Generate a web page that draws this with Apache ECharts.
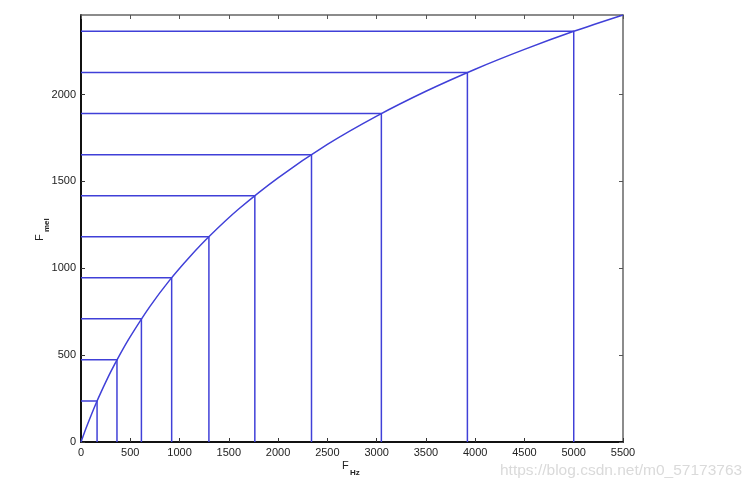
<!DOCTYPE html>
<html><head><meta charset="utf-8">
<script src="https://cdn.jsdelivr.net/npm/echarts@6/dist/echarts.min.js"></script>
<style>html,body{margin:0;padding:0;background:#fff}#c{width:756px;height:492px}</style>
</head><body><div id="c"></div>
<script>
// Mel curve samples: [Hz, mel]
var curveHz  = [0, 50, 100, 150, 200, 300, 400, 500, 700, 900, 1100, 1300, 1600, 2000, 2500, 3000, 3500, 4000, 4500, 5000, 5500];
var curveMel = [0, 78, 150, 219, 283, 402, 509, 607, 781, 932, 1064, 1183, 1341, 1521, 1713, 1876, 2019, 2146, 2260, 2364, 2458];
// Filter points (equally spaced in mel)
var pointHz  = [163, 365, 613, 920, 1298, 1764, 2339, 3048, 3921, 5000];
var pointMel = [236, 473, 709, 945, 1182, 1418, 1654, 1891, 2127, 2364];
var xTicks = [0, 500, 1000, 1500, 2000, 2500, 3000, 3500, 4000, 4500, 5000, 5500];
var yTicks = [0, 500, 1000, 1500, 2000];

var blue = '#4040d8';
var chart = echarts.init(document.getElementById('c'));
var series = [{
  type: 'line', xAxisIndex: 0, yAxisIndex: 0, smooth: 0.3, symbol: 'none',
  lineStyle: {color: blue, width: 1.5},
  data: curveHz.map(function (h, i) { return [h, curveMel[i]]; })
}];
pointHz.forEach(function (h, i) {
  series.push({
    type: 'line', xAxisIndex: 0, yAxisIndex: 0, symbol: 'none',
    lineStyle: {color: blue, width: 1.5},
    data: [[0, pointMel[i]], [h, pointMel[i]], [h, 0]]
  });
});
var lblStyle = {color: '#222', fontSize: 11, fontFamily: 'Liberation Sans, Arial'};
chart.setOption({
  animation: false,
  grid: {left: 81, right: 133, top: 15, bottom: 50},
  xAxis: [{
    type: 'value', min: 0, max: 5500, interval: 500, position: 'bottom',
    axisLine: {show: true, onZero: false, lineStyle: {color: '#111', width: 2}},
    axisTick: {show: true, inside: true, length: 4, lineStyle: {color: '#333'}},
    axisLabel: Object.assign({margin: 5, formatter: function (v) { return xTicks.indexOf(v) >= 0 ? v : ''; }}, lblStyle),
    splitLine: {show: false}
  }, {
    type: 'value', min: 0, max: 5500, interval: 500, position: 'top',
    axisLine: {show: true, onZero: false, lineStyle: {color: '#666', width: 1.5}},
    axisTick: {show: true, inside: true, length: 4, lineStyle: {color: '#555'}},
    axisLabel: {show: false}, splitLine: {show: false}
  }],
  yAxis: [{
    type: 'value', min: 0, max: 2458, interval: 500, position: 'left',
    axisLine: {show: true, onZero: false, lineStyle: {color: '#111', width: 2}},
    axisTick: {show: true, inside: true, length: 4, lineStyle: {color: '#333'}},
    axisLabel: Object.assign({margin: 5, showMaxLabel: false, formatter: function (v) { return yTicks.indexOf(v) >= 0 ? v : ''; }}, lblStyle),
    splitLine: {show: false}
  }, {
    type: 'value', min: 0, max: 2458, interval: 500, position: 'right',
    axisLine: {show: true, onZero: false, lineStyle: {color: '#666', width: 1.5}},
    axisTick: {show: true, inside: true, length: 4, lineStyle: {color: '#555'}},
    axisLabel: {show: false}, splitLine: {show: false}
  }],
  graphic: [
    {type: 'text', x: 342, y: 460, style: {text: 'F', fontSize: 11, fill: '#222', fontFamily: 'Liberation Sans, Arial'}},
    {type: 'text', x: 350, y: 469, style: {text: 'Hz', fontSize: 8, fill: '#222', fontFamily: 'Liberation Sans, Arial', fontWeight: 'bold'}},
    {type: 'text', x: 34, y: 241, rotation: Math.PI / 2, style: {text: 'F', fontSize: 11, fill: '#222', fontFamily: 'Liberation Sans, Arial'}},
    {type: 'text', x: 43, y: 232, rotation: Math.PI / 2, style: {text: 'mel', fontSize: 8, fill: '#222', fontFamily: 'Liberation Sans, Arial', fontWeight: 'bold'}},
    {type: 'text', x: 500, y: 463, style: {text: 'https://blog.csdn.net/m0_57173763', fontSize: 15.5, fill: '#dadada', fontFamily: 'Liberation Sans, Arial'}}
  ],
  series: series
});
</script></body></html>
